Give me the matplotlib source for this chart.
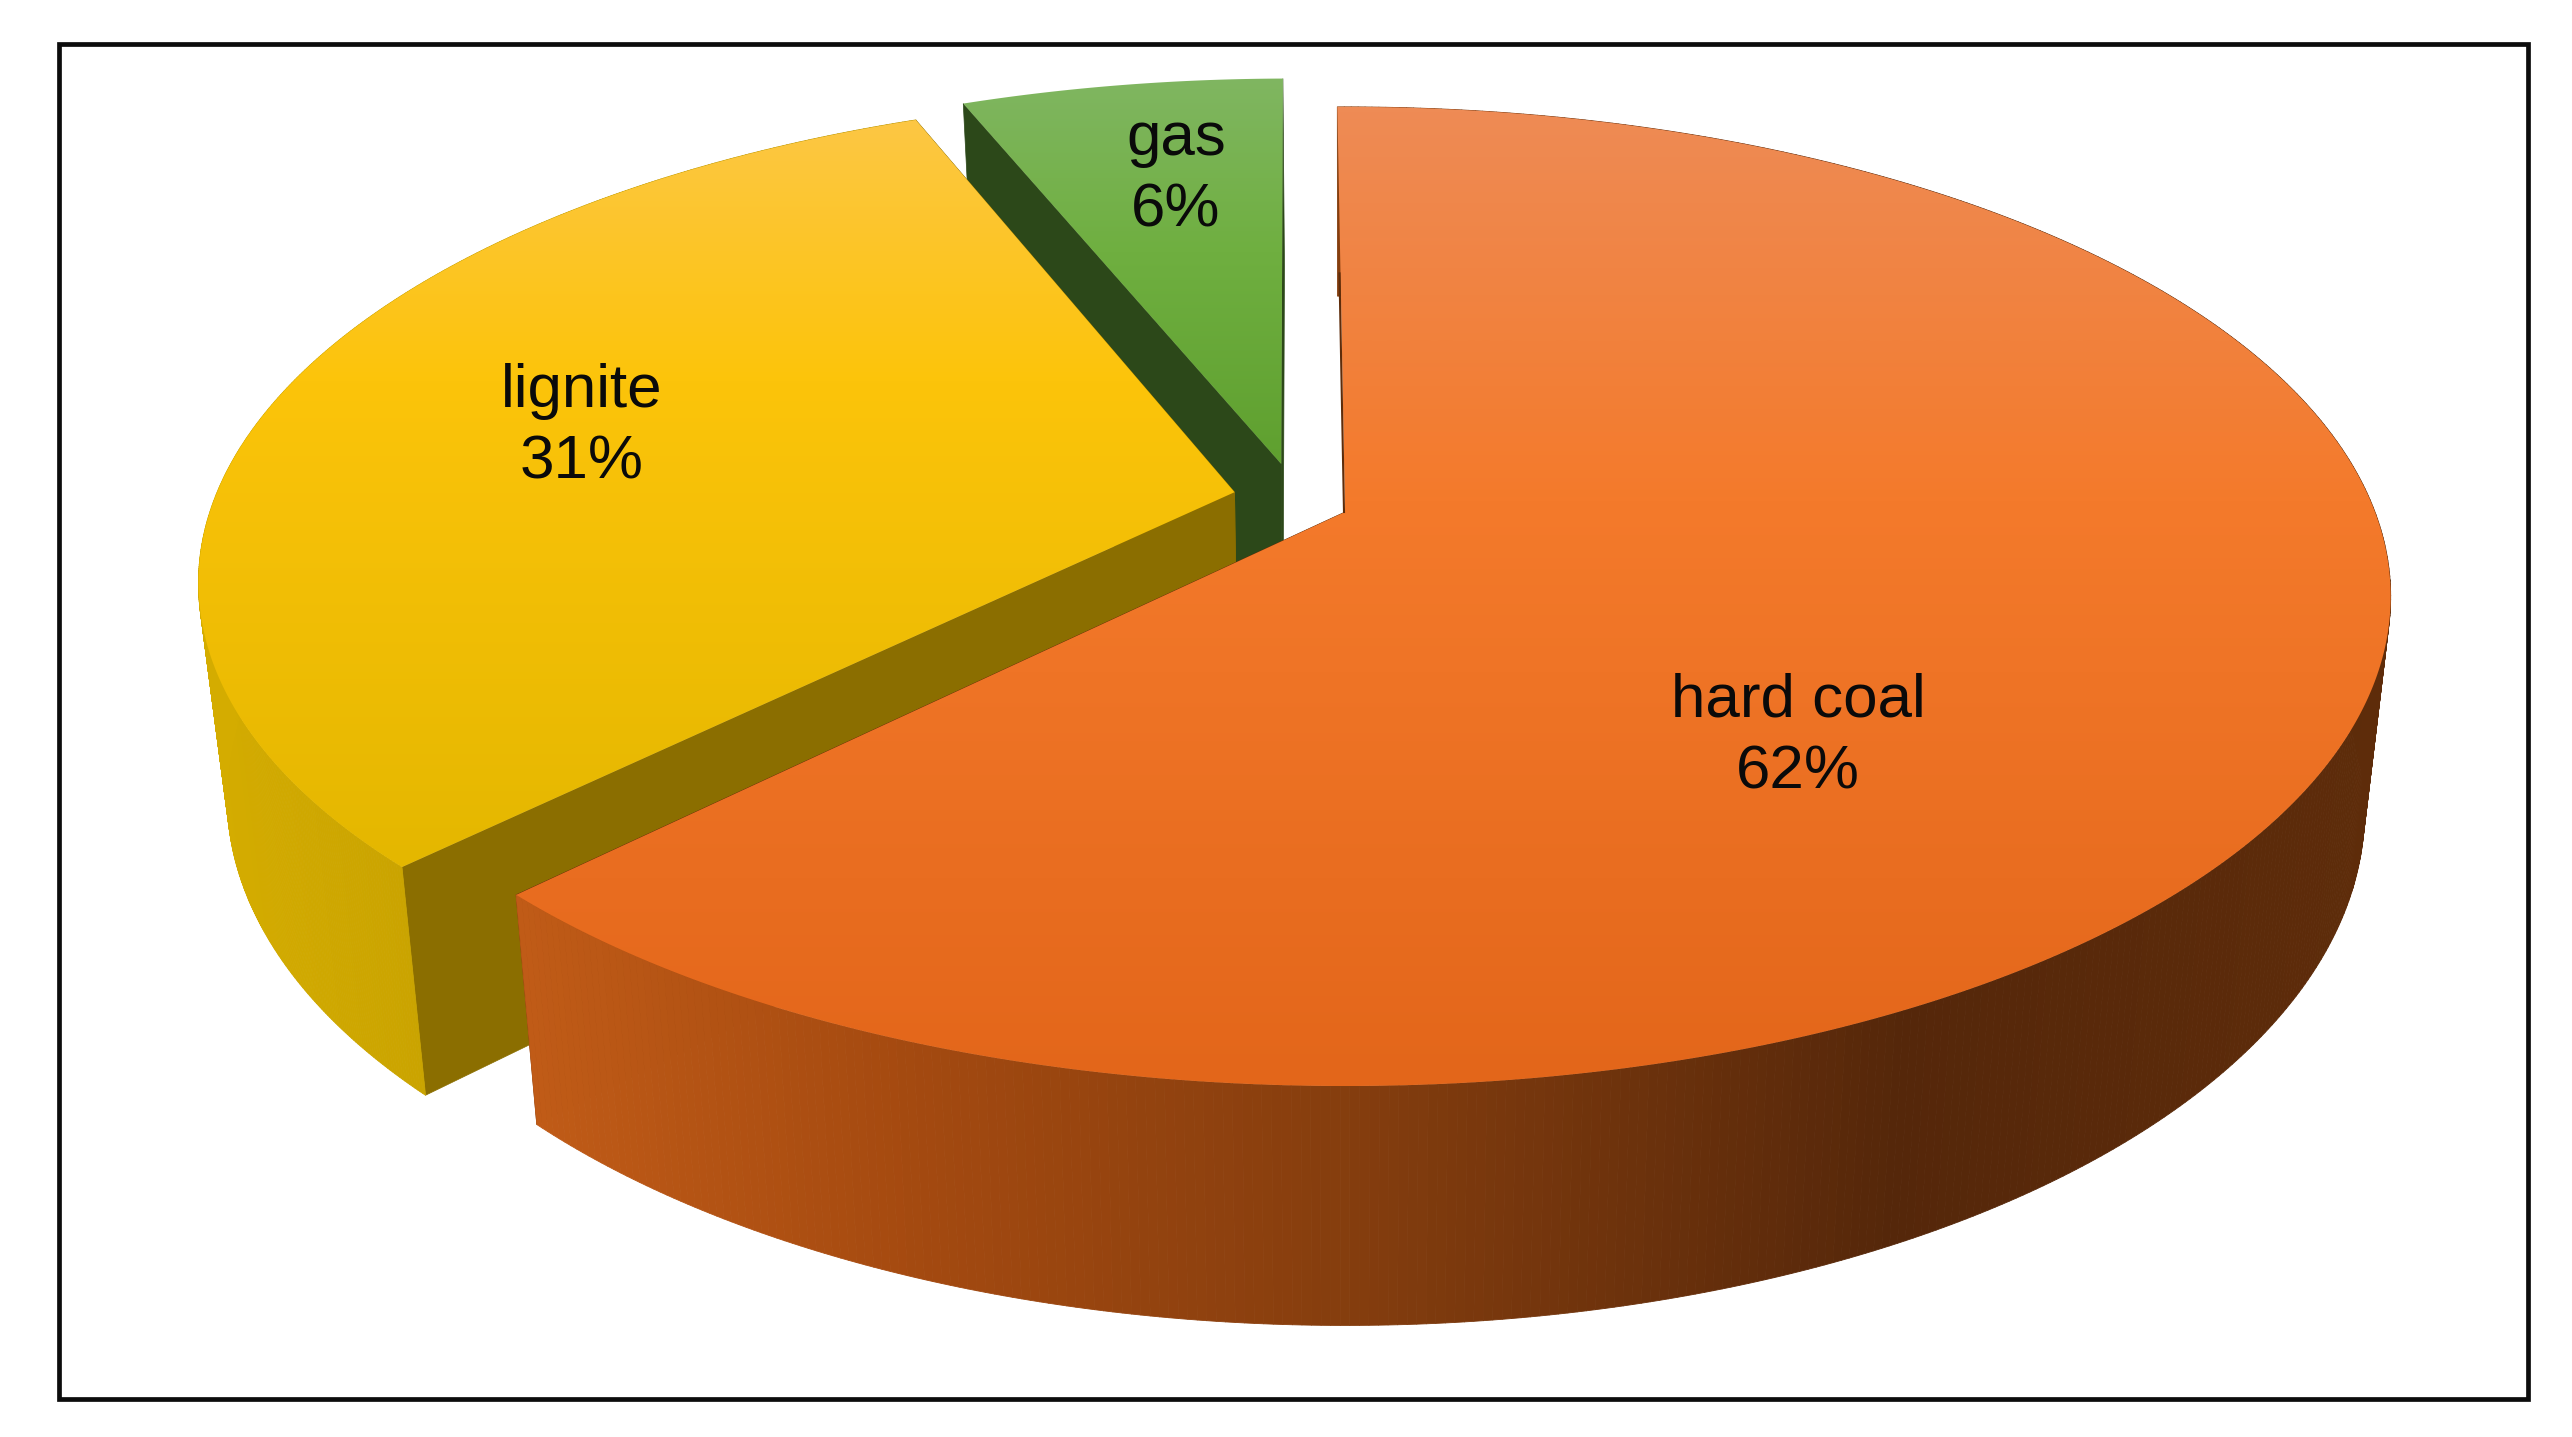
import matplotlib
matplotlib.use("Agg")
import matplotlib.pyplot as plt
import numpy as np
from matplotlib.collections import PolyCollection
from matplotlib.colors import LinearSegmentedColormap
from matplotlib.patches import Polygon, Rectangle

# Data ------------------------------------------------------------
fuels = ["hard coal", "lignite", "gas"]
shares = [62, 31, 6]

# Pie geometry (pixels of the 2572x1437 picture) ------------------
cx, cy = 1345, 512      # where the hard coal apex sits
rx, ry = 1030, 475      # radius across / along the view direction
persp = 0.1725          # back of the pie is compressed by this
depth = 210             # wall height before perspective
base_shrink = 0.975     # base ellipse is a bit narrower than the top
start_angle = -0.5      # degrees, clockwise from 12 o'clock
slice_radius = [1.0, 0.995, 0.98]
offset_u = [0.0, -0.108, -0.063]   # explosion of each slice, in radii
offset_v = [0.0, 0.042, 0.103]
slice_z = [8, 5, 2]
label_x = [1798, 582, 1176]
label_y = [737, 427, 175]

# Colours ---------------------------------------------------------
top_stops = [
    [(0.0, "#EE8B55"), (0.4, "#F47A2B"), (1.0, "#E3661A")],
    [(0.0, "#FDC744"), (0.35, "#FCC40A"), (1.0, "#E4B700")],
    [(0.0, "#80B661"), (0.45, "#6FAF40"), (1.0, "#5FA02F")],
]
wall_stops = [
    [(0.0, "#C05B17"), (0.2, "#A54A10"), (0.45, "#843D0E"), (0.74, "#55270A"), (1.0, "#5E2C0A")],
    [(0.0, "#D4AC00"), (0.35, "#C8A200"), (1.0, "#B89300")],
    [(0.0, "#2A4519"), (1.0, "#2A4519")],
]
cut_colors = ["#5E2C0A", "#8B6E00", "#2C4819"]


def project(r, theta, level, du, dv):
    # theta is clockwise from 12 o'clock, level 0 = top face, 1 = base
    u = r * np.sin(theta) + du
    v = r * np.cos(theta) + dv
    w = 1 + persp * v
    shrink = 1 + (base_shrink - 1) * level
    x = cx + rx * shrink * u / w
    y = cy - (ry * shrink * v - depth * level) / w
    return np.column_stack([x, y])


def gradient_fill(ax, pts, stops, zorder):
    # vertical ramp clipped to the polygon
    cmap = LinearSegmentedColormap.from_list("g", stops)
    img = np.linspace(0, 1, 256).reshape(-1, 1)
    x0, x1 = pts[:, 0].min(), pts[:, 0].max()
    y0, y1 = pts[:, 1].min(), pts[:, 1].max()
    im = ax.imshow(img, cmap=cmap, extent=(x0, x1, y1, y0), origin="upper",
                   aspect="auto", interpolation="bilinear", zorder=zorder)
    clip = Polygon(pts, closed=True, transform=ax.transData, fc="none", ec="none")
    ax.add_patch(clip)
    im.set_clip_path(clip)


def wall_fill(ax, top, base, stops, zorder):
    # outer wall as thin quads, so the sides reach the tangent between the rims
    cmap = LinearSegmentedColormap.from_list("g", stops)
    quads = [[top[j], top[j + 1], base[j + 1], base[j]] for j in range(len(top) - 1)]
    mids = np.array([np.mean(q, axis=0)[0] for q in quads])
    colors = cmap((mids - mids.min()) / (mids.max() - mids.min()))
    ax.add_collection(PolyCollection(quads, facecolors=colors, edgecolors=colors,
                                     linewidths=0.6, zorder=zorder))


fig = plt.figure(figsize=(25.72, 14.37), dpi=100, facecolor="white")
ax = fig.add_axes([0, 0, 1, 1])
ax.set_xlim(0, 2572)
ax.set_ylim(1437, 0)
ax.set_autoscale_on(False)
ax.axis("off")

fractions = np.array(shares) / sum(shares)
ends = np.cumsum(fractions) * 2 * np.pi + np.radians(start_angle)
starts = ends - fractions * 2 * np.pi

# Back slices first: gas, lignite, then hard coal on top
for i in [2, 1, 0]:
    du, dv = offset_u[i], offset_v[i]
    r = slice_radius[i]
    z = slice_z[i]
    theta = np.linspace(starts[i], ends[i], 500)

    # radial cut walls (the first hard coal one is only a sliver, drawn below)
    edges = [ends[i]] if i == 0 else [starts[i], ends[i]]
    for edge in edges:
        cut = np.vstack([project(0, edge, 0, du, dv), project(r, edge, 0, du, dv),
                         project(r, edge, 1, du, dv), project(0, edge, 1, du, dv)])
        ax.add_patch(Polygon(cut, closed=True, fc=cut_colors[i], ec=cut_colors[i], lw=0.5, zorder=z))

    # outer wall
    if i != 2:
        wall_fill(ax, project(r, theta, 0, du, dv), project(r, theta, 1, du, dv), wall_stops[i], z + 0.3)

    # top face
    face = np.vstack([project(0, theta[0], 0, du, dv), project(r, theta, 0, du, dv)])
    gradient_fill(ax, face, top_stops[i], z + 0.6)

    ax.text(label_x[i], label_y[i], f"{fuels[i]}\n{shares[i]}%", family="Liberation Sans",
            fontsize=44.6, color="#0A0A0A", ha="center", va="center", ma="center",
            linespacing=1.32, zorder=20)

# thin dark sliver along the first hard coal edge
sliver = project(np.array([0.55, 0.0]), starts[0], 0, 0, 0)
ax.plot(sliver[:, 0] - 1, sliver[:, 1], color="#5E2C0A", lw=1.5, zorder=9)

ax.add_patch(Rectangle((59, 44), 2469, 1355, fc="none", ec="#0C0C0C", lw=3.4, zorder=30))

fig.savefig("out.png", dpi=100, facecolor="white")
